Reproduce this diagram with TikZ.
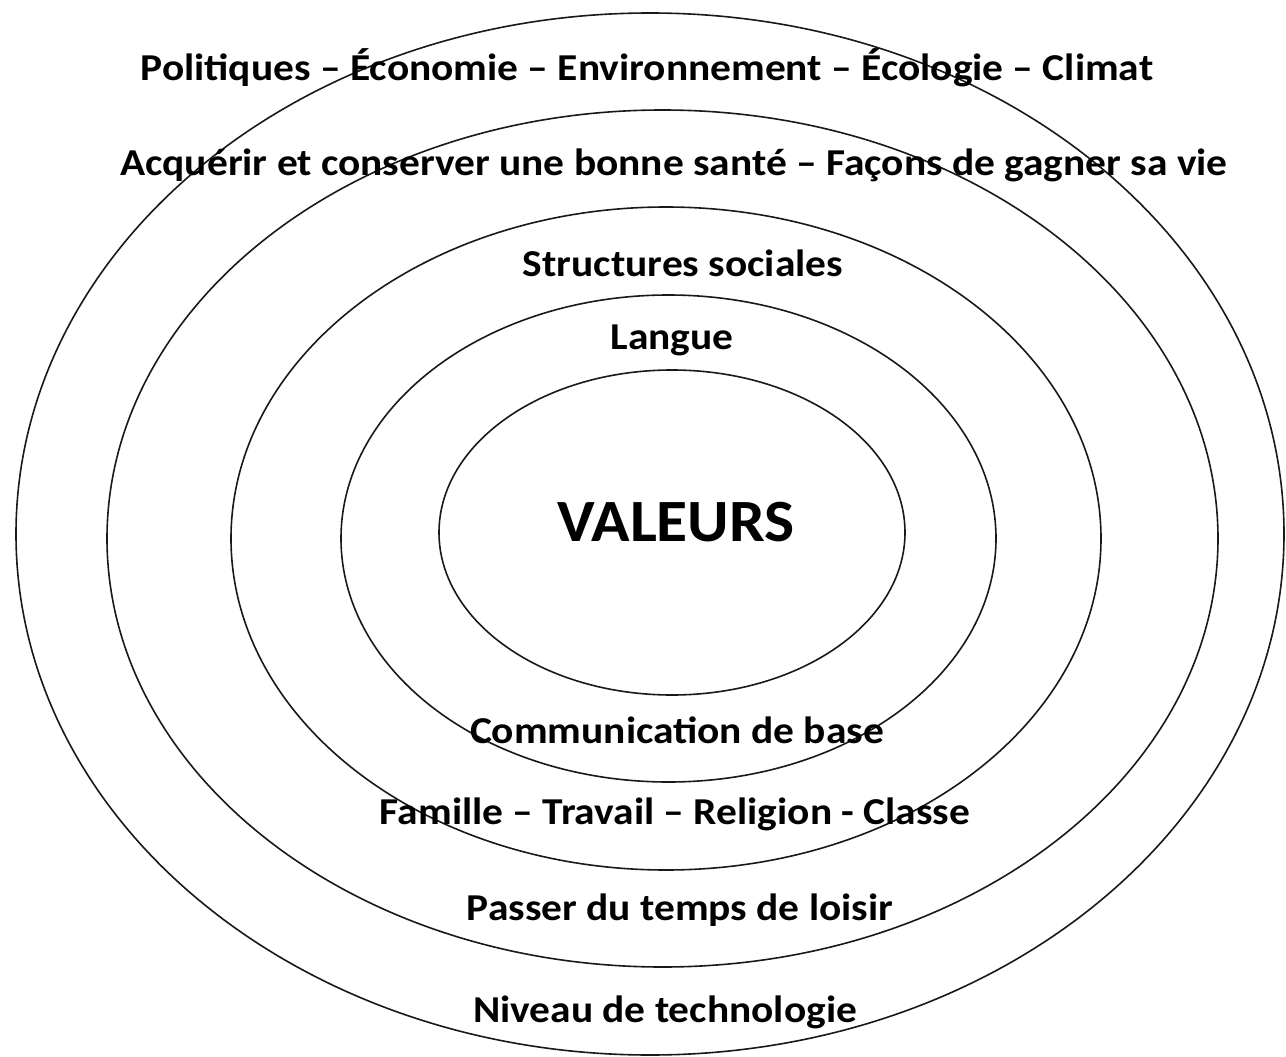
\documentclass[tikz,border=0pt]{standalone}
\usepackage{fontspec}
\setmainfont{Carlito}
\newcommand{\wide}[1]{\scalebox{1.09}[1]{#1}}
\begin{document}
\begin{tikzpicture}[x=1pt,y=-1pt,
  ring/.style={draw=black!90, line width=1.6pt},
  lbl/.style={font=\fontsize{38}{44}\selectfont\bfseries, inner sep=0pt, anchor=center},
  big/.style={font=\fontsize{60}{70}\selectfont\bfseries, inner sep=0pt, anchor=center}]
\useasboundingbox[fill=white] (0,0) rectangle (1286,1057);
% rings, outermost to innermost
\draw[ring] (650,534) ellipse [x radius=634, y radius=521];
\draw[ring] (662.5,538.5) ellipse [x radius=555.5, y radius=428.5];
\draw[ring] (666,538.5) ellipse [x radius=435, y radius=331.5];
\draw[ring] (668.5,538.5) ellipse [x radius=327.5, y radius=243.5];
\draw[ring] (672,532.5) ellipse [x radius=233, y radius=162.5];
% labels
\node[lbl] (pol) at (647,68) {\wide{Politiques – Économie – Environnement – Écologie – Climat}};
\node[lbl] (acq) at (674,165) {\wide{Acquérir et conserver une bonne santé – Façons de gagner sa vie}};
\node[lbl] (str) at (683,263) {\wide{Structures sociales}};
\node[lbl] (lan) at (672,340) {\wide{Langue}};
\node[big] (val) at (676,522) {\scalebox{1.06}[1]{VALEURS}};
\node[lbl] (com) at (677,730) {\wide{Communication de base}};
\node[lbl] (fam) at (675,814) {\wide{Famille – Travail – Religion - Classe}};
\node[lbl] (pas) at (680,910) {\wide{Passer du temps de loisir}};
\node[lbl] (niv) at (665,1012) {\wide{Niveau de technologie}};
\end{tikzpicture}
\end{document}
